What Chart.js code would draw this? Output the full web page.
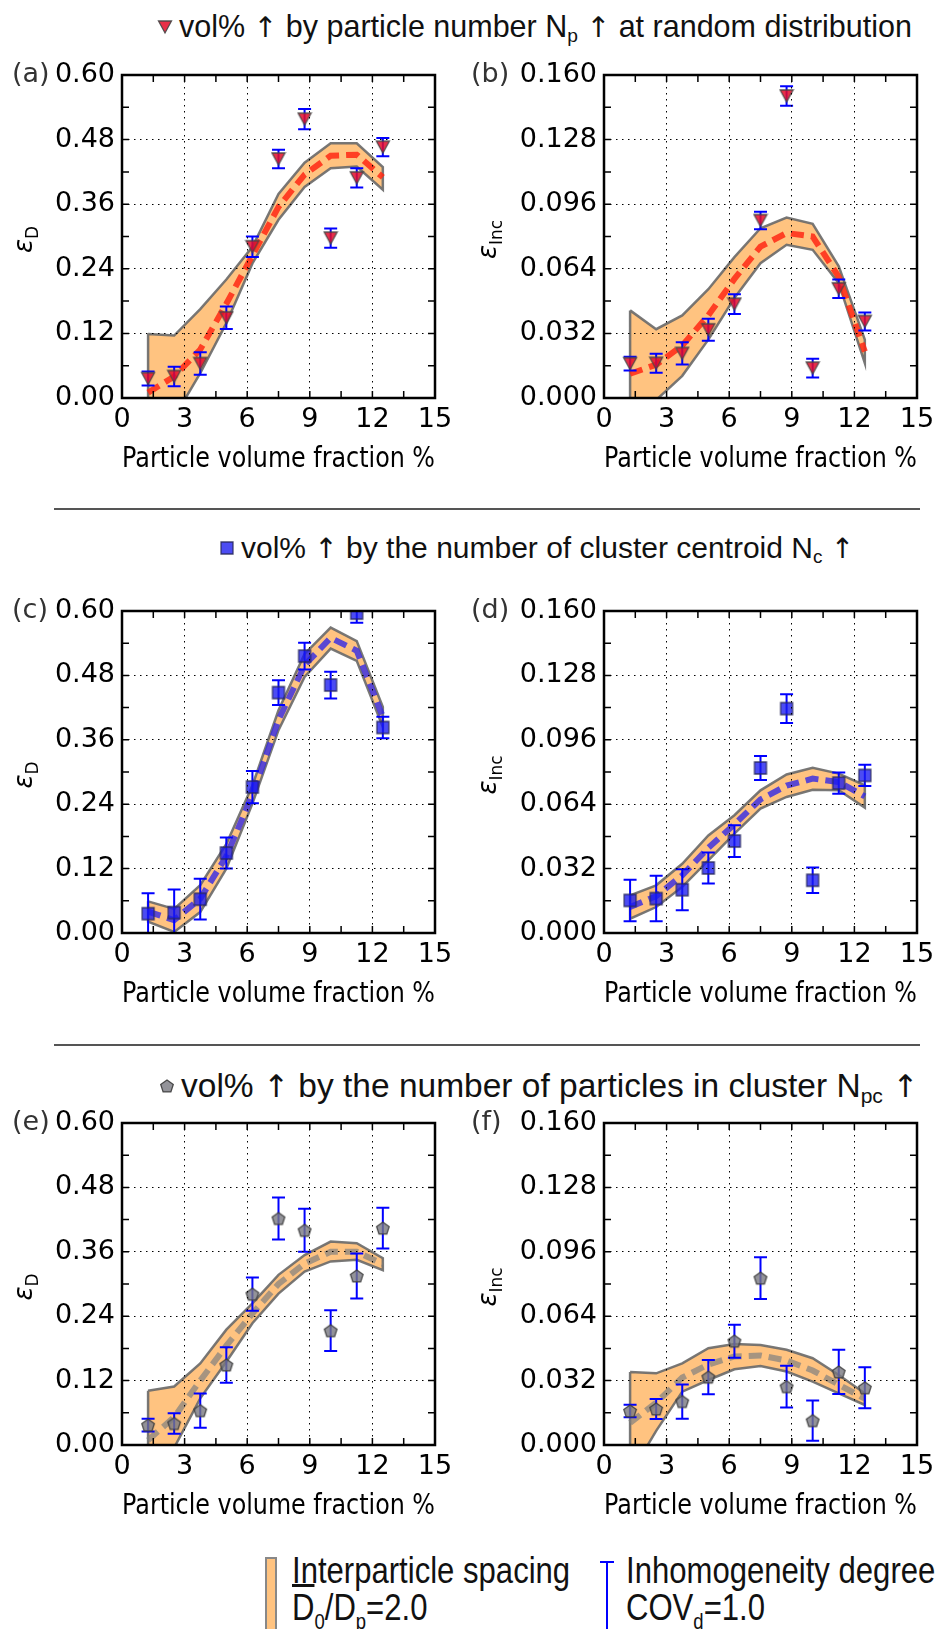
<!DOCTYPE html>
<html>
<head>
<meta charset="utf-8">
<script src="https://cdn.jsdelivr.net/npm/chart.js@4.4.0/dist/chart.umd.min.js"></script>
<style>
  html, body { margin: 0; padding: 0; background: #fff; }
  body { width: 952px; height: 1629px; position: relative; overflow: hidden; font-family: "Liberation Sans", Arial, sans-serif; }
  canvas.panel { position: absolute; }
  .ttl { position: absolute; white-space: nowrap; font-size: 30px; line-height: 34px; color: #111; }
  .ttl canvas { vertical-align: middle; margin-right: 6px; position: relative; top: -2px; }
  .ar { font-family: "DejaVu Sans"; font-size: 0.93em; }
  .sub { font-size: 0.63em; position: relative; top: 0.27em; }
  .sep { position: absolute; left: 54px; width: 866px; height: 2px; background: #555; }
  .lg { position: absolute; white-space: nowrap; font-size: 37px; line-height: 37px; color: #111;
        transform: scaleX(0.84); transform-origin: 0 0; }
  .lsub { font-size: 22px; position: relative; top: 9px; }
</style>
</head>
<body>

<div class="ttl" style="left:157px; top:9px; font-size:30.5px"><canvas id="mk1" width="16" height="16"></canvas>vol% <span class="ar">↑</span> by particle number N<span class="sub">p</span> <span class="ar">↑</span> at random distribution</div>
<canvas class="panel" id="pa"></canvas>
<canvas class="panel" id="pb"></canvas>
<div class="sep" style="top:508px"></div>

<div class="ttl" style="left:219px; top:531px"><canvas id="mk2" width="16" height="16"></canvas>vol% <span class="ar">↑</span> by the number of cluster centroid N<span class="sub">c</span> <span class="ar">↑</span></div>
<canvas class="panel" id="pc"></canvas>
<canvas class="panel" id="pd"></canvas>
<div class="sep" style="top:1044px"></div>

<div class="ttl" style="left:159px; top:1067px; font-size:33.5px; line-height:38px"><canvas id="mk3" width="16" height="16"></canvas>vol% <span class="ar">↑</span> by the number of particles in cluster N<span class="sub">pc</span> <span class="ar">↑</span></div>
<canvas class="panel" id="pe"></canvas>
<canvas class="panel" id="pf"></canvas>

<div style="position:absolute; left:265px; top:1557px; width:8px; height:90px; background:#ffc380; border:2px solid #888;"></div>
<div class="lg" style="left:292px; top:1552px">Interparticle spacing<br><span style="text-decoration:overline">D</span><span class="lsub">0</span>/D<span class="lsub">p</span>=2.0</div>
<div style="position:absolute; left:600px; top:1561px; width:14px; height:2px; background:#0000ff;"></div>
<div style="position:absolute; left:606px; top:1561px; width:2px; height:80px; background:#0000ff;"></div>
<div class="lg" style="left:626px; top:1552px">Inhomogeneity degree<br>COV<span class="lsub">d</span>=1.0</div>

<script>
// particle volume fraction (%) of each case
const vf = [1.25, 2.5, 3.75, 5.0, 6.25, 7.5, 8.75, 10.0, 11.25, 12.5];
const xMax = 15, xTickStep = 1.5, xLabelStep = 3;
const dMax = 0.6, dStep = 0.06;      // eps_D axis
const incMax = 0.16, incStep = 0.016; // eps_Inc axis

// (a) random distribution, eps_D
const aVal   = [0.036, 0.040, 0.064, 0.149, 0.281, 0.444, 0.518, 0.297, 0.409, 0.466];
const aErr   = [0.013, 0.018, 0.021, 0.021, 0.019, 0.017, 0.019, 0.018, 0.018, 0.017];
const aUpper = [0.119, 0.116, 0.165, 0.220, 0.281, 0.379, 0.437, 0.473, 0.473, 0.429];
const aLower = [-0.100, -0.036, 0.046, 0.139, 0.250, 0.331, 0.392, 0.427, 0.430, 0.387];
const aMean  = [0.010, 0.040, 0.090, 0.175, 0.265, 0.355, 0.415, 0.450, 0.452, 0.410];

// (b) random distribution, eps_Inc
const bVal   = [0.0170, 0.0172, 0.0221, 0.0338, 0.0465, 0.0879, 0.1496, 0.0148, 0.0541, 0.0379];
const bErr   = [0.0034, 0.0047, 0.0055, 0.0055, 0.0049, 0.0043, 0.0048, 0.0047, 0.0046, 0.0045];
const bUpper = [0.0434, 0.0341, 0.0409, 0.0539, 0.0698, 0.0841, 0.0894, 0.0863, 0.0652, 0.0289];
const bLower = [-0.0190, -0.0010, 0.0110, 0.0289, 0.0495, 0.0668, 0.0759, 0.0734, 0.0569, 0.0173];
const bMean  = [0.0120, 0.0165, 0.0260, 0.0410, 0.0590, 0.0750, 0.0817, 0.0800, 0.0600, 0.0230];

// (c) cluster centroids, eps_D
const cVal   = [0.036, 0.038, 0.063, 0.149, 0.272, 0.448, 0.516, 0.462, 0.596, 0.383];
const cErr   = [0.038, 0.043, 0.038, 0.029, 0.030, 0.023, 0.025, 0.025, 0.018, 0.020];
const cUpper = [0.059, 0.045, 0.089, 0.166, 0.275, 0.415, 0.520, 0.569, 0.544, 0.421];
const cLower = [0.021, 0.002, 0.039, 0.120, 0.241, 0.378, 0.477, 0.530, 0.507, 0.384];
const cMean  = [0.040, 0.024, 0.064, 0.143, 0.258, 0.397, 0.499, 0.550, 0.526, 0.403];

// (d) cluster centroids, eps_Inc
const dVal   = [0.0162, 0.0171, 0.0215, 0.0323, 0.0457, 0.0820, 0.1115, 0.0262, 0.0745, 0.0783];
const dErr   = [0.0103, 0.0113, 0.0102, 0.0077, 0.0079, 0.0060, 0.0071, 0.0063, 0.0053, 0.0053];
const dUpper = [0.0187, 0.0237, 0.0344, 0.0485, 0.0585, 0.0709, 0.0788, 0.0821, 0.0792, 0.0734];
const dLower = [0.0071, 0.0129, 0.0229, 0.0361, 0.0494, 0.0618, 0.0676, 0.0712, 0.0709, 0.0623];
const dMean  = [0.0129, 0.0183, 0.0287, 0.0423, 0.0540, 0.0664, 0.0732, 0.0767, 0.0750, 0.0679];

// (e) particles per cluster, eps_D
const eVal   = [0.037, 0.040, 0.064, 0.149, 0.281, 0.422, 0.400, 0.213, 0.315, 0.404];
const eErr   = [0.012, 0.019, 0.032, 0.033, 0.031, 0.039, 0.040, 0.038, 0.042, 0.038];
const eUpper = [0.101, 0.109, 0.152, 0.215, 0.264, 0.317, 0.354, 0.379, 0.376, 0.348];
const eLower = [-0.083, -0.005, 0.087, 0.155, 0.227, 0.282, 0.323, 0.342, 0.345, 0.326];
const eMean  = [0.009, 0.052, 0.120, 0.185, 0.245, 0.300, 0.338, 0.360, 0.360, 0.337];

// (f) particles per cluster, eps_Inc
const fVal   = [0.0169, 0.0179, 0.0216, 0.0337, 0.0516, 0.0829, 0.0290, 0.0121, 0.0363, 0.0284];
const fErr   = [0.0031, 0.0050, 0.0085, 0.0085, 0.0082, 0.0104, 0.0104, 0.0100, 0.0110, 0.0102];
const fUpper = [0.0363, 0.0356, 0.0406, 0.0481, 0.0502, 0.0497, 0.0473, 0.0431, 0.0348, 0.0257];
const fLower = [-0.0147, 0.0070, 0.0265, 0.0323, 0.0376, 0.0393, 0.0365, 0.0315, 0.0257, 0.0199];
const fMean  = [0.0110, 0.0210, 0.0335, 0.0400, 0.0440, 0.0445, 0.0420, 0.0370, 0.0300, 0.0230];

const xTitle = 'Particle volume fraction %';
const tickFont = { family: 'DejaVu Sans', size: 27 };

// marker glyphs drawn on small canvases
function marker(kind, target) {
  const c = target || document.createElement('canvas');
  c.width = 16; c.height = 16;
  const g = c.getContext('2d');
  g.beginPath();
  if (kind === 'tri') {
    g.moveTo(1.5, 2); g.lineTo(14.5, 2); g.lineTo(8, 14);
    g.fillStyle = 'rgba(228,10,40,0.85)'; g.strokeStyle = 'rgba(70,70,70,0.9)';
  } else if (kind === 'sq') {
    g.rect(2, 2, 12, 12);
    g.fillStyle = 'rgba(25,25,240,0.78)'; g.strokeStyle = 'rgba(40,40,90,0.85)';
  } else {
    for (let k = 0; k < 5; k++) {
      const a = -Math.PI / 2 + k * 2 * Math.PI / 5;
      g.lineTo(8 + 6.6 * Math.cos(a), 8.6 + 6.6 * Math.sin(a));
    }
    g.fillStyle = 'rgba(120,120,128,0.8)'; g.strokeStyle = 'rgba(60,60,60,0.9)';
  }
  g.closePath();
  g.fill();
  g.lineWidth = 1.3;
  g.stroke();
  return c;
}

function xy(ys) {
  return vf.map((x, i) => ({ x: x, y: ys[i] }));
}
function ring(up, lo) {
  return xy(up).concat(xy(lo).reverse(), [{ x: vf[0], y: up[0] }]);
}

const errorBars = {
  id: 'errorBars',
  beforeDatasetDraw(chart, args) {
    if (args.index !== 0) return;
    const ds = chart.data.datasets[0];
    const { ctx, chartArea } = chart;
    const xs = chart.scales.x, ys = chart.scales.y;
    ctx.save();
    ctx.beginPath();
    ctx.rect(chartArea.left, chartArea.top, chartArea.width, chartArea.height);
    ctx.clip();
    ctx.strokeStyle = '#0000ff';
    ctx.lineWidth = 2;
    ds.data.forEach((p, i) => {
      const px = xs.getPixelForValue(p.x);
      const t = ys.getPixelForValue(p.y + ds.errors[i]);
      const b = ys.getPixelForValue(p.y - ds.errors[i]);
      ctx.beginPath();
      ctx.moveTo(px, t); ctx.lineTo(px, b);
      ctx.moveTo(px - 6.5, t); ctx.lineTo(px + 6.5, t);
      ctx.moveTo(px - 6.5, b); ctx.lineTo(px + 6.5, b);
      ctx.stroke();
    });
    ctx.restore();
  }
};

const panelDeco = {
  id: 'panelDeco',
  afterDraw(chart, args, o) {
    const { ctx, chartArea: ca } = chart;
    const xs = chart.scales.x, ys = chart.scales.y;
    ctx.save();
    // inward ticks on all four sides
    ctx.strokeStyle = '#000';
    ctx.lineWidth = 1.5;
    ctx.beginPath();
    xs.ticks.forEach(t => {
      const px = xs.getPixelForValue(t.value);
      ctx.moveTo(px, ca.bottom); ctx.lineTo(px, ca.bottom - 7);
      ctx.moveTo(px, ca.top); ctx.lineTo(px, ca.top + 7);
    });
    ys.ticks.forEach(t => {
      const py = ys.getPixelForValue(t.value);
      ctx.moveTo(ca.left, py); ctx.lineTo(ca.left + 7, py);
      ctx.moveTo(ca.right, py); ctx.lineTo(ca.right - 7, py);
    });
    ctx.stroke();
    // frame
    ctx.lineWidth = 2.5;
    ctx.strokeRect(ca.left, ca.top, ca.width, ca.height);
    // panel tag
    ctx.fillStyle = '#333';
    ctx.font = '27px "DejaVu Sans"';
    ctx.textBaseline = 'middle';
    ctx.textAlign = 'left';
    ctx.fillText(o.tag, o.tagX, ca.top);
    // y title: epsilon with subscript, rotated
    ctx.translate(o.ylabX, (ca.top + ca.bottom) / 2 + 3);
    ctx.rotate(-Math.PI / 2);
    ctx.fillStyle = '#000';
    ctx.textBaseline = 'alphabetic';
    ctx.font = 'italic 26px "DejaVu Sans"';
    const w1 = ctx.measureText(o.ylab[0]).width;
    ctx.font = '17px "DejaVu Sans"';
    const w2 = ctx.measureText(o.ylab[1]).width;
    const u = -(w1 + w2) / 2;
    ctx.font = 'italic 26px "DejaVu Sans"';
    ctx.fillText(o.ylab[0], u, 0);
    ctx.font = '17px "DejaVu Sans"';
    ctx.fillText(o.ylab[1], u + w1, 6);
    ctx.restore();
  }
};

Chart.register(errorBars, panelDeco);

function makePanel(p) {
  const cv = document.getElementById(p.id);
  cv.style.left = p.left + 'px';
  cv.style.top = p.top + 'px';
  cv.width = p.w;
  cv.height = 450;
  return new Chart(cv, {
    type: 'scatter',
    data: {
      datasets: [
        { data: xy(p.vals), errors: p.errs, pointStyle: marker(p.kind), pointRadius: 8, showLine: false, clip: 0 },
        { type: 'line', data: xy(p.mean), borderColor: p.meanColor, borderWidth: 6, borderDash: [13, 7],
          pointRadius: 0, fill: false, tension: 0, clip: 0 },
        { type: 'line', data: ring(p.up, p.lo), borderColor: 'rgba(105,105,105,0.9)', borderWidth: 2.5,
          pointRadius: 0, fill: false, tension: 0, clip: 0 },
        { type: 'line', data: xy(p.lo), borderColor: 'rgba(0,0,0,0)', borderWidth: 0, pointRadius: 0, fill: false, clip: 0 },
        { type: 'line', data: xy(p.up), borderColor: 'rgba(0,0,0,0)', borderWidth: 0, pointRadius: 0,
          fill: '-1', backgroundColor: '#ffc380', clip: 0 }
      ]
    },
    options: {
      responsive: false,
      animation: false,
      events: [],
      layout: { padding: { left: 0, top: 45, right: p.rpad, bottom: 0 } },
      plugins: {
        legend: { display: false },
        tooltip: { enabled: false },
        panelDeco: { tag: p.tag, tagX: p.tagX, ylab: p.ylab, ylabX: p.ylabX }
      },
      scales: {
        x: {
          type: 'linear', min: 0, max: xMax,
          afterFit: s => { s.height = p.xh; },
          ticks: {
            stepSize: xTickStep, autoSkip: false, maxRotation: 0, padding: 6, color: '#000', font: tickFont,
            callback: v => (Math.abs(v % xLabelStep) < 1e-9 ? String(v) : '')
          },
          grid: {
            drawTicks: false, z: 1, lineWidth: 1,
            color: c => (c.tick && Math.abs(c.tick.value % xLabelStep) < 1e-9 ? '#000' : 'rgba(0,0,0,0)')
          },
          border: { display: false, dash: [1.5, 4.5] },
          title: { display: true, text: xTitle, color: '#000', font: { family: 'DejaVu Sans', size: 28 },
                   padding: { top: 0, bottom: p.xtpad } }
        },
        y: {
          type: 'linear', min: 0, max: p.max,
          afterFit: s => { s.width = p.yw; },
          ticks: {
            stepSize: p.step, autoSkip: false, padding: 7, color: '#000', font: tickFont,
            callback: (v, i) => (i % 2 === 0 ? v.toFixed(p.dec) : '')
          },
          grid: {
            drawTicks: false, z: 1, lineWidth: 1,
            color: c => (c.index % 2 === 0 ? '#000' : 'rgba(0,0,0,0)')
          },
          border: { display: false, dash: [1.5, 4.5] }
        }
      }
    }
  });
}

const leftCol  = { left: 0,   w: 476, yw: 122, rpad: 41, tagX: 12, ylabX: 32 };
const rightCol = { left: 456, w: 496, yw: 148, rpad: 35, tagX: 15, ylabX: 40 };
const epsD = ['ε', 'D'], epsInc = ['ε', 'Inc'];
const red = 'rgba(255,40,20,0.85)', blue = 'rgba(50,40,230,0.8)', gray = 'rgba(128,128,128,0.7)';

makePanel(Object.assign({ id: 'pa', top: 30,   xh: 82, xtpad: 3, tag: '(a)', ylab: epsD,   max: dMax,   step: dStep,   dec: 2,
  vals: aVal, errs: aErr, up: aUpper, lo: aLower, mean: aMean, kind: 'tri', meanColor: red }, leftCol));
makePanel(Object.assign({ id: 'pb', top: 30,   xh: 82, xtpad: 3, tag: '(b)', ylab: epsInc, max: incMax, step: incStep, dec: 3,
  vals: bVal, errs: bErr, up: bUpper, lo: bLower, mean: bMean, kind: 'tri', meanColor: red }, rightCol));
makePanel(Object.assign({ id: 'pc', top: 566,  xh: 83, xtpad: 4, tag: '(c)', ylab: epsD,   max: dMax,   step: dStep,   dec: 2,
  vals: cVal, errs: cErr, up: cUpper, lo: cLower, mean: cMean, kind: 'sq', meanColor: blue }, leftCol));
makePanel(Object.assign({ id: 'pd', top: 566,  xh: 83, xtpad: 4, tag: '(d)', ylab: epsInc, max: incMax, step: incStep, dec: 3,
  vals: dVal, errs: dErr, up: dUpper, lo: dLower, mean: dMean, kind: 'sq', meanColor: blue }, rightCol));
makePanel(Object.assign({ id: 'pe', top: 1078, xh: 83, xtpad: 4, tag: '(e)', ylab: epsD,   max: dMax,   step: dStep,   dec: 2,
  vals: eVal, errs: eErr, up: eUpper, lo: eLower, mean: eMean, kind: 'pent', meanColor: gray }, leftCol));
makePanel(Object.assign({ id: 'pf', top: 1078, xh: 83, xtpad: 4, tag: '(f)', ylab: epsInc, max: incMax, step: incStep, dec: 3,
  vals: fVal, errs: fErr, up: fUpper, lo: fLower, mean: fMean, kind: 'pent', meanColor: gray }, rightCol));

marker('tri', document.getElementById('mk1'));
marker('sq', document.getElementById('mk2'));
marker('pent', document.getElementById('mk3'));
</script>
</body>
</html>
